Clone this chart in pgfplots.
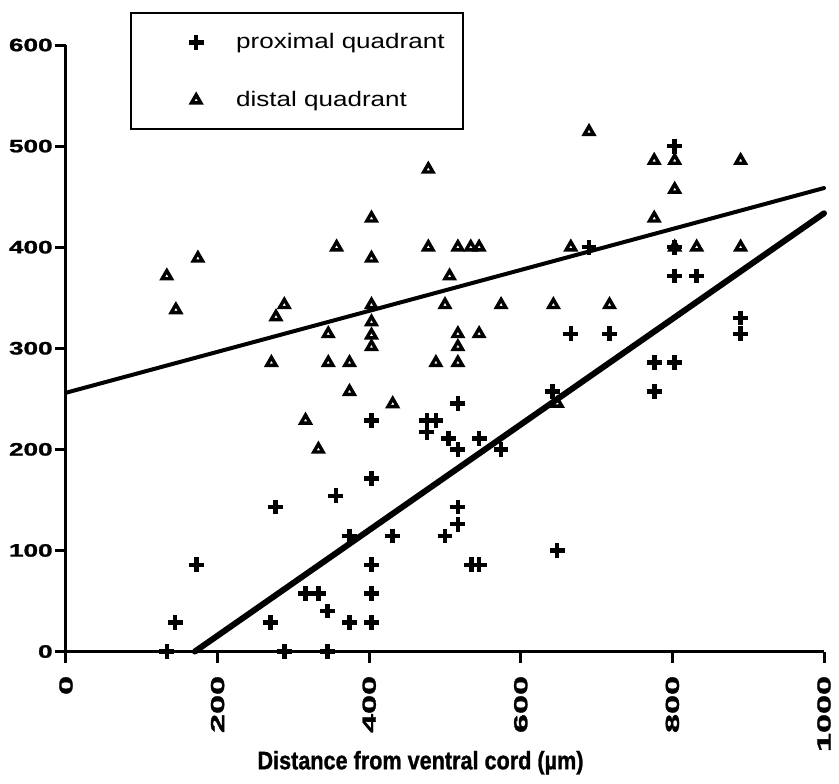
\documentclass[border=0pt]{standalone}
\usepackage{pgfplots}
\pgfplotsset{compat=1.18}
\usepackage{fontspec}
\setmainfont{Liberation Sans}
\newfontfamily\heavy[FakeBold=1.2]{Liberation Sans Bold}
\usepackage{graphicx}

\begin{document}
\begin{tikzpicture}
\path[use as bounding box] (-33pt,-65.75pt) rectangle (386.5pt,325.75pt);
\begin{axis}[
    at={(0,0)}, anchor=south west,
    scale only axis, width=379pt, height=303.25pt,
    xmin=0, xmax=1000, ymin=0, ymax=600,
    clip=false,
    axis lines=left,
    axis line style={-, line width=1.5pt},
    tick align=outside,
    major tick length=5.5pt,
    tick style={line width=1.5pt, black},
    xtick={0,200,...,1000},
    ytick={0,100,...,600},
    /pgf/number format/1000 sep={},
    /pgf/number format/assume math mode=true,
    yticklabel={\scalebox{1.45}[1]{\pgfmathprintnumber{\tick}}},
    xticklabel={\scalebox{1.8}[1]{\pgfmathprintnumber{\tick}}},
    yticklabel style={font=\heavy\fontsize{9}{9}\selectfont, inner sep=1pt},
    xticklabel style={font=\heavy\fontsize{9.5}{9.5}\selectfont, rotate=90, anchor=east, inner sep=0pt},
    xticklabel shift=6.5pt,
    xlabel={\scalebox{0.94}[1.1]{Distance from ventral cord (µm)}},
    xlabel style={at={(axis description cs:0.4677,0)}, anchor=north, inner sep=0pt, yshift=-49.5pt,
        font=\heavy\fontsize{11.5}{11.5}\selectfont},
    legend style={at={(0.0844,1.0544)}, anchor=north west, draw=black, line width=1.2pt,
        inner xsep=0pt, inner ysep=0pt, column sep=0pt, row sep=0pt,
        nodes={inner sep=0pt, text height=17.5pt, text depth=11.5pt, anchor=west,
            font=\fontsize{10.5}{10.5}\selectfont}},
    legend image code/.code={\path[draw=none, fill=none] (0pt,0pt) -- (52.5pt,0pt); \draw[#1] plot coordinates {(32.5pt,0pt)};},
]
% proximal quadrant
\addplot[only marks, mark=+, mark size=3.7pt, mark options={line width=2.3pt, black}] coordinates {
(133,0)(288,0)(345,0)
(144,28.6)(270,28.6)(374,28.6)(403,28.6)
(345,40)
(316,57.1)(333,57.1)(403,57.1)
(172,85.7)(403,85.7)(535,85.7)(545,85.7)
(648,100)
(374,114.3)(431,114.3)(500,114.3)
(517,126)
(276,142.9)(517,142.9)
(356,154)
(403,171.4)
(517,200)(574,200)
(505,211)(545,211)(476,217)
(403,228.6)(476,228.6)(488,228.6)
(517,245.5)
(642,257.1)(776,257.1)
(776,285.7)(803,285.7)
(666,314.3)(717,314.3)(890,314.3)
(890,330)
(803,371.4)(832,371.4)
(690,400)(803,400)
(803,500)
};
\addlegendentry{\makebox[113.5pt][l]{\scalebox{1.24}[1]{proximal quadrant}}}
% distal quadrant
\addplot[only marks, mark=triangle, mark size=2.7pt, mark options={line width=1.7pt, black}] coordinates {
(133,371.4)(174,389)(145,338)
(478,477)(403,428.6)(357,400)(478,400)(517,400)(534,400)(545,400)(666,400)
(403,389)(506,371.4)(288,343)(277,331)(403,343)(500,343)(574,343)(643,343)
(403,326)(403,313)(403,301.5)(346,314.3)(517,314.3)(545,314.3)(517,301.5)
(271,285.7)(346,285.7)(374,285.7)(488,285.7)(517,285.7)
(316,228.6)(333,200)(374,257.1)(431,245)(648,245.5)
(690,514.3)(776,485.7)(803,485.7)(890,485.7)(803,457.1)(776,428.6)
(803,400)(832,400)(890,400)(717,343)
};
\addlegendentry{\makebox[113.5pt][l]{\scalebox{1.24}[1]{distal quadrant}}}
% fitted lines
\addplot[forget plot, black, line width=2pt, line cap=round] coordinates {(0,256)(1000,458.5)};
\addplot[forget plot, black, line width=3pt, line cap=round] coordinates {(170,0)(1000,433.5)};
\end{axis}
\end{tikzpicture}
\end{document}
